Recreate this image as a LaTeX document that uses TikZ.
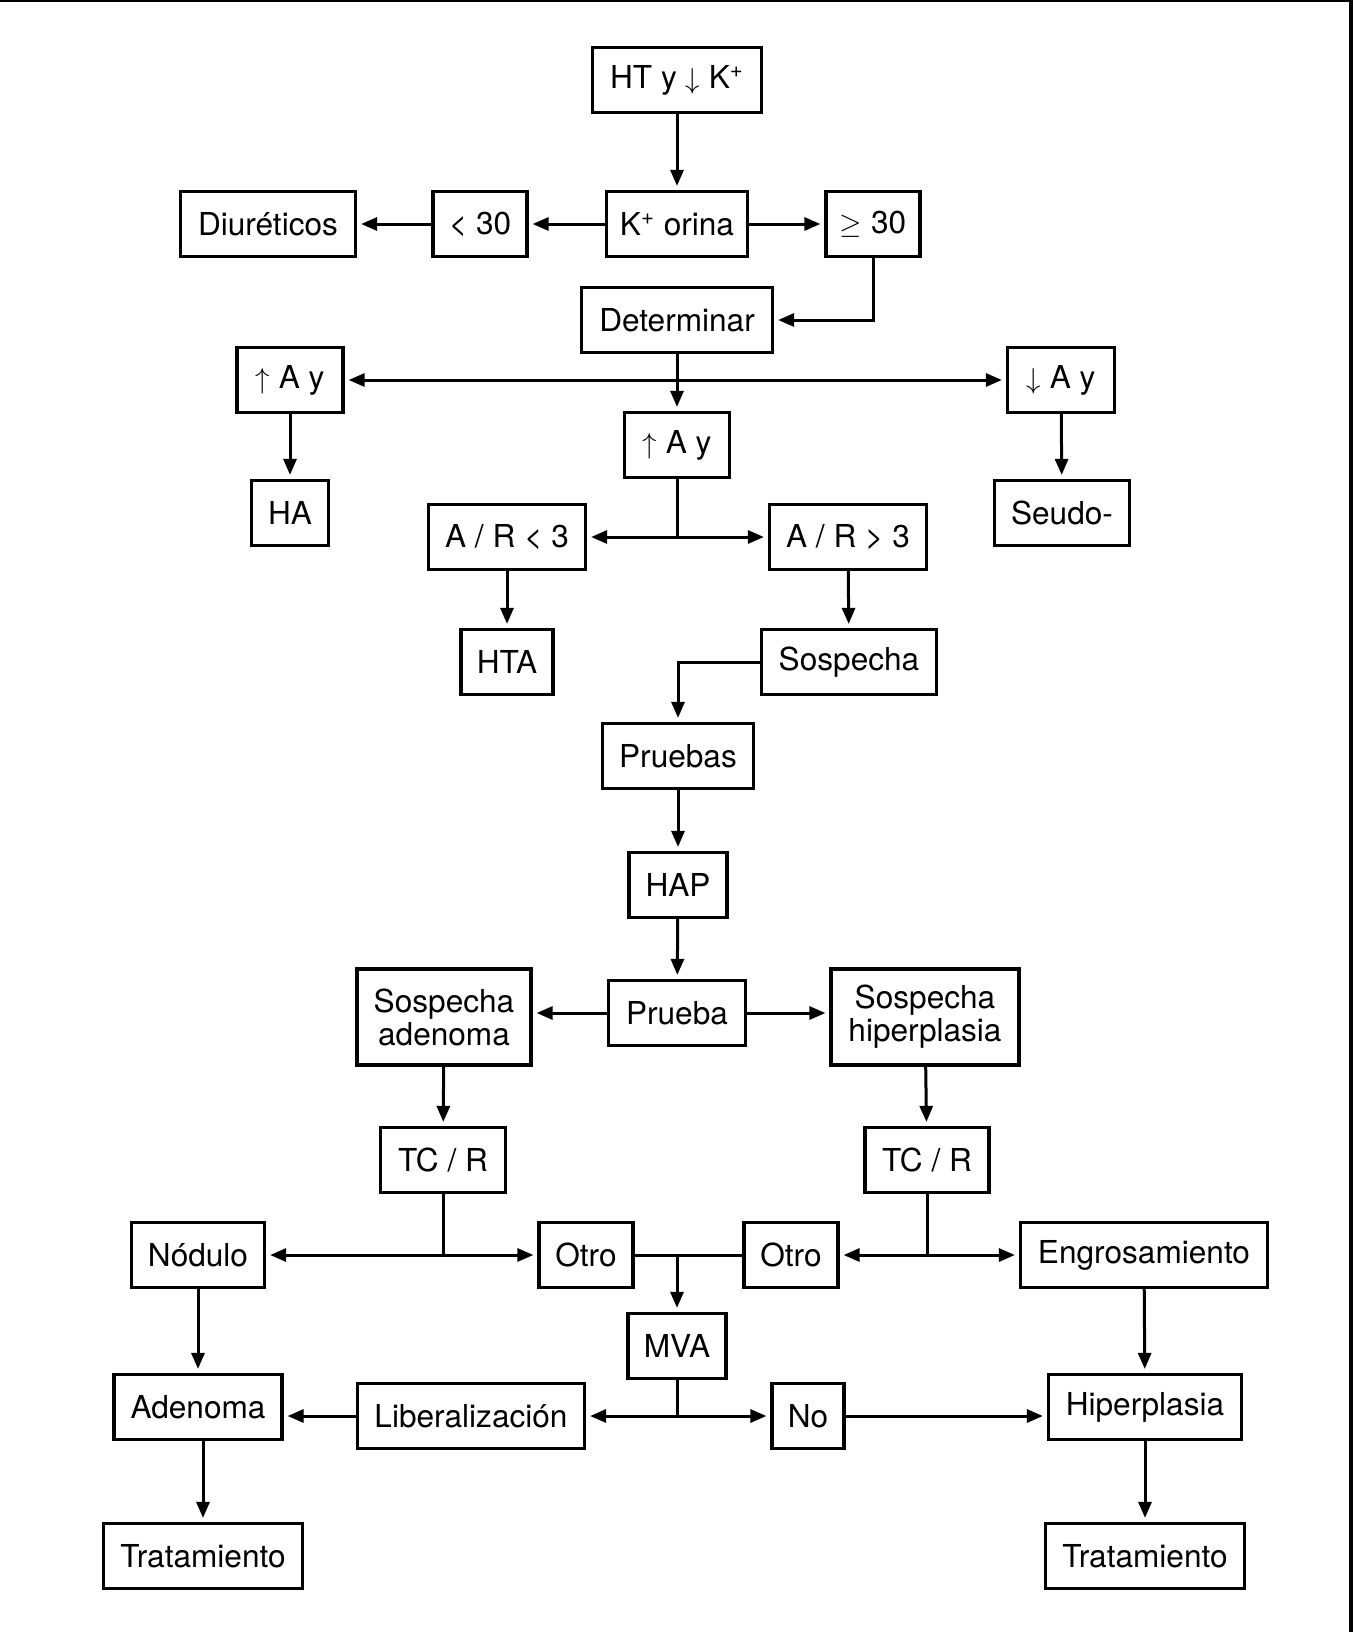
\documentclass[tikz,border=0pt]{standalone}
\usepackage{fontspec}
\setmainfont{TeX Gyre Heros}
\usetikzlibrary{arrows.meta}

\begin{document}
\begin{tikzpicture}[x=0.5pt,y=-0.5pt,
    caja/.style={draw, line width=1.6pt, minimum height=32.5pt, inner sep=2pt,
        align=center, font=\fontsize{15.8}{16.5}\selectfont},
    linea/.style={line width=1.5pt},
    flecha/.style={linea, -{Triangle[length=8pt,width=6.5pt]}, shorten >=2pt},
    doble/.style={flecha, {Triangle[length=8pt,width=6.5pt]}-{Triangle[length=8pt,width=6.5pt]}, shorten <=2pt}]
    \useasboundingbox (0,0) rectangle (1356,1632);
    \draw[line width=1pt] (0,1) -- (1351,1);
    \draw[line width=1.65pt] (1351,0) -- (1351,1632);

    % nodos
    \node[caja, minimum width=84.5pt] (ht) at (677,80) {HT y $\downarrow$ K\textsuperscript{+}};
    \node[caja, minimum width=87.5pt] (diur) at (268,224) {Diuréticos};
    \node[caja, minimum width=47pt] (menos) at (480,224) {< 30};
    \node[caja, minimum width=70.5pt] (korina) at (677,224) {K\textsuperscript{+} orina};
    \node[caja, minimum width=47pt] (mayor) at (873,224) {$\geq$ 30};
    \node[caja, minimum width=95.5pt] (det) at (677,320) {Determinar};
    \node[caja, minimum width=53pt] (subeA) at (290,380) {$\uparrow$ A y};
    \node[caja, minimum width=53.5pt] (bajaA) at (1061,380) {$\downarrow$ A y};
    \node[caja, minimum width=52.5pt] (subeB) at (677,445) {$\uparrow$ A y};
    \node[caja, minimum width=38.5pt] (ha) at (290,513) {HA};
    \node[caja, minimum width=67.5pt] (seudo) at (1062,513) {Seudo-};
    \node[caja, minimum width=78.5pt] (arm) at (507,537) {A / R < 3};
    \node[caja, minimum width=78.5pt] (arM) at (848,537) {A / R > 3};
    \node[caja, minimum width=46pt] (hta) at (507,662) {HTA};
    \node[caja, minimum width=87.5pt] (sosp) at (849,662) {Sospecha};
    \node[caja, minimum width=75.5pt] (pruebas) at (678,756) {Pruebas};
    \node[caja, minimum width=49pt] (hap) at (678,885) {HAP};
    \node[caja, minimum width=68.5pt] (prueba) at (677,1013) {Prueba};
    \node[caja, minimum width=87pt, minimum height=48pt] (sadeno) at (444,1017) {Sospecha\\adenoma};
    \node[caja, minimum width=94pt, minimum height=48pt] (shiper) at (925,1017) {Sospecha\\hiperplasia};
    \node[caja, minimum width=62.5pt] (tcL) at (443,1160) {TC / R};
    \node[caja, minimum width=62pt] (tcR) at (927,1160) {TC / R};
    \node[caja, minimum width=66.5pt] (nodulo) at (198,1255) {Nódulo};
    \node[caja, minimum width=47pt] (otroL) at (586,1255) {Otro};
    \node[caja, minimum width=47pt] (otroR) at (791,1255) {Otro};
    \node[caja, minimum width=123.5pt] (engro) at (1144,1255) {Engrosamiento};
    \node[caja, minimum width=49pt] (mva) at (677,1346) {MVA};
    \node[caja, minimum width=84pt] (adenoma) at (198,1407) {Adenoma};
    \node[caja, minimum width=113.5pt] (liber) at (471,1416) {Liberalización};
    \node[caja, minimum width=36pt] (no) at (808,1416) {No};
    \node[caja, minimum width=96.5pt] (hiper) at (1145,1407) {Hiperplasia};
    \node[caja, minimum width=99.5pt] (tratL) at (203,1556) {Tratamiento};
    \node[caja, minimum width=99.5pt] (tratR) at (1145,1556) {Tratamiento};

    % conexiones
    \draw[flecha] (ht) -- (korina);
    \draw[flecha] (korina) -- (menos);
    \draw[flecha] (menos) -- (diur);
    \draw[flecha] (korina) -- (mayor);
    \draw[flecha] (mayor.south) |- (det.east);
    \draw[doble] (subeA) -- (bajaA);
    \draw[flecha] (det) -- (subeB);
    \draw[flecha] (subeA) -- (ha);
    \draw[flecha] (bajaA) -- (seudo);
    \draw[linea] (subeB) -- (subeB |- arm);
    \draw[doble] (arm) -- (arM);
    \draw[flecha] (arm) -- (hta);
    \draw[flecha] (arM) -- (sosp);
    \draw[flecha] (sosp.west) -| (pruebas.north);
    \draw[flecha] (pruebas) -- (hap);
    \draw[flecha] (hap) -- (prueba);
    \draw[flecha] (prueba.west) -- (prueba.west -| sadeno.east);
    \draw[flecha] (prueba.east) -- (prueba.east -| shiper.west);
    \draw[flecha] (sadeno) -- (tcL);
    \draw[flecha] (shiper) -- (tcR);
    \draw[linea] (tcL) -- (tcL |- nodulo);
    \draw[doble] (nodulo) -- (otroL);
    \draw[linea] (tcR) -- (tcR |- otroR);
    \draw[doble] (otroR) -- (engro);
    \draw[linea] (otroL) -- (otroR);
    \coordinate (union) at (677,1255);
    \draw[flecha] (union) -- (mva);
    \draw[flecha] (nodulo) -- (adenoma);
    \draw[flecha] (engro) -- (hiper);
    \draw[linea] (mva) -- (mva |- liber);
    \draw[doble] (liber) -- (no);
    \draw[flecha] (liber.west) -- (liber.west -| adenoma.east);
    \draw[flecha] (no.east) -- (no.east -| hiper.west);
    \draw[flecha] (adenoma.south -| tratL) -- (tratL);
    \draw[flecha] (hiper) -- (tratR);
\end{tikzpicture}
\end{document}
